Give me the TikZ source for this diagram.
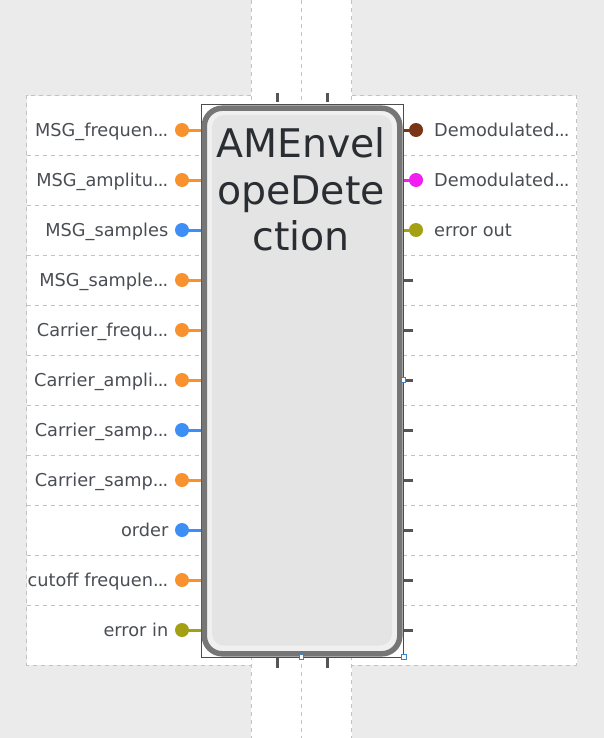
\documentclass[tikz,border=0pt]{standalone}
\usepackage{fontspec}
\setmainfont{DejaVu Sans}
\newcommand{\pdts}{.\kern-0.8bp.\kern-0.8bp.}
\definecolor{bggray}{HTML}{EBEBEB}
\definecolor{dashgray}{HTML}{C2C2C2}
\definecolor{lblcol}{HTML}{4A4E54}
\definecolor{titlecol}{HTML}{2A2E33}
\definecolor{pOrange}{HTML}{F7922F}
\definecolor{pBlue}{HTML}{3D8EF5}
\definecolor{pOlive}{HTML}{A3A014}
\definecolor{pBrown}{HTML}{7A3517}
\definecolor{pMagenta}{HTML}{F01EF0}
\definecolor{stubcol}{HTML}{555555}
\definecolor{frame}{HTML}{767676}
\definecolor{handle}{HTML}{3A84C8}
\tikzset{
  dashln/.style={draw=dashgray, line width=1bp, dash pattern=on 4bp off 4bp},
  portdot/.style={circle, fill=#1, inner sep=0pt, minimum size=14bp},
  portln/.style={draw=#1, line width=3bp},
  stubln/.style={draw=stubcol, line width=3bp},
  lbl/.style={text=lblcol, font=\fontsize{17.8pt}{21pt}\selectfont, inner sep=0pt},
  ttl/.style={text=titlecol, font=\fontsize{39.6pt}{46pt}\selectfont, inner sep=0pt, anchor=base},
  hdl/.style={draw=handle, fill=white, line width=1bp, minimum size=4.5bp, inner sep=0pt}
}
\begin{document}
\begin{tikzpicture}[x=1bp,y=-1bp]
\useasboundingbox (0,0) rectangle (604,738);
% background
\fill[bggray] (0,0) rectangle (604,738);
\fill[white] (26.5,95.5) rectangle (576.5,665);
\fill[white] (251,0) rectangle (352,738);
% panel border
\draw[dashln] (251,95.5) -- (26.5,95.5) -- (26.5,665) -- (251,665);
\draw[dashln] (352,95.5) -- (576.5,95.5) -- (576.5,665) -- (352,665);
% row separators
\foreach \yy in {155,205,255,305,355,405,455,505,555,605}{
  \draw[dashln] (26.5,\yy) -- (201,\yy);
  \draw[dashln] (403,\yy) -- (576.5,\yy);
}
% column lines
\foreach \xx in {251.5,301.5,351.5}{
  \draw[dashln] (\xx,0) -- (\xx,738);
}
% block
\node[draw=stubcol!90!black, fill=white, line width=1bp, minimum width=202bp, minimum height=552bp, inner sep=0pt] (blk) at (302,381) {};
% top / bottom stubs
\coordinate (tsA) at (277,93); \coordinate (tsB) at (327,93);
\coordinate (bsA) at (277,668); \coordinate (bsB) at (327,668);
\draw[stubln] (tsA) -- (tsA |- 0,102);
\draw[stubln] (tsB) -- (tsB |- 0,102);
\draw[stubln] (bsA) -- (bsA |- 0,658);
\draw[stubln] (bsB) -- (bsB |- 0,658);
% left ports
\foreach \i/\txt/\col in {1/MSG\_frequen\pdts/pOrange, 2/MSG\_amplitu\pdts/pOrange, 3/MSG\_samples/pBlue, 4/MSG\_sample\pdts/pOrange, 5/Carrier\_frequ\pdts/pOrange, 6/Carrier\_ampli\pdts/pOrange, 7/Carrier\_samp\pdts/pBlue, 8/Carrier\_samp\pdts/pOrange, 9/order/pBlue, 10/cutoff frequen\pdts/pOrange, 11/error in/pOlive}{
  \pgfmathsetmacro{\yy}{80+50*\i}
  \pgfmathsetmacro{\yb}{86.5+50*\i}
  \node[portdot=\col] (lp\i) at (182,\yy) {};
  \draw[portln=\col] (lp\i.center) -- (lp\i.center -| blk.west);
  \node[lbl, anchor=base east] (ll\i) at (168.5,\yb) {\txt};
}
% right ports
\foreach \i/\txt/\col in {1/Demodulated\pdts/pBrown, 2/Demodulated\pdts/pMagenta, 3/error out/pOlive}{
  \pgfmathsetmacro{\yy}{80+50*\i}
  \pgfmathsetmacro{\yb}{86.5+50*\i}
  \node[portdot=\col] (rp\i) at (416,\yy) {};
  \draw[portln=\col] (rp\i.center) -- (rp\i.center -| blk.east);
  \node[lbl, anchor=base west] (rl\i) at (434,\yb) {\txt};
}
% right stubs
\foreach \i in {4,5,6,7,8,9,10,11}{
  \pgfmathsetmacro{\yy}{80+50*\i}
  \coordinate (rs\i) at (413,\yy);
  \draw[stubln] (rs\i) -- (rs\i -| blk.east);
}
% rounded body
\draw[draw=frame, line width=5.5bp, fill=white!94!black, rounded corners=18bp] (204.3,108.2) rectangle (399.8,653.8);
\fill[fill=white!89.4!black, rounded corners=12bp] (212,115) rectangle (392,645.5);
% title
\node[ttl] (t1) at (301,157) {AMEnvel};
\node[ttl] (t2) at (301,204) {opeDete};
\node[ttl] (t3) at (301,250.5) {ction};
% handles
\node[hdl] (h1) at (301.5,657) {};
\node[hdl] (h2) at (404,657) {};
\node[hdl] (h3) at (403.5,380) {};
\end{tikzpicture}
\end{document}
